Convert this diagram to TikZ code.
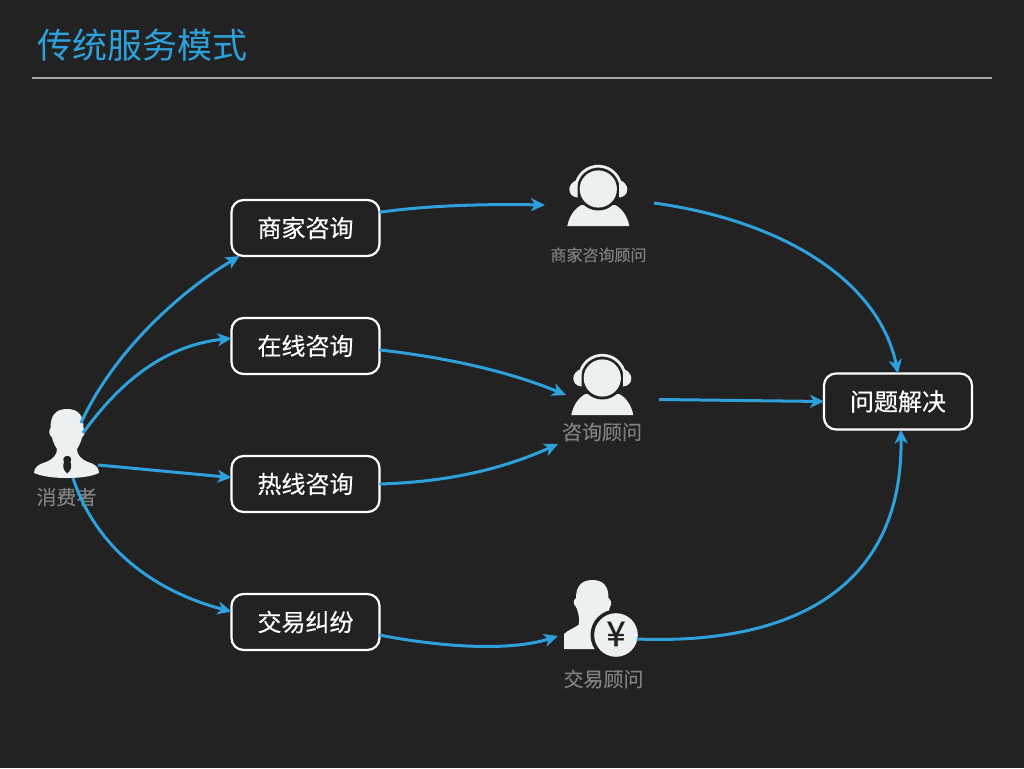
\documentclass[tikz,border=0pt]{standalone}
\usepackage{fontspec}
\setmainfont{Noto Sans CJK SC}
\newfontfamily\cuti[FakeBold=0.35]{Noto Sans CJK SC}
\newfontfamily\yenti[FakeBold=1.2]{Noto Sans CJK SC}
\usetikzlibrary{arrows.meta}
\definecolor{heidi}{HTML}{222222}
\definecolor{tianlan}{HTML}{2EA1DC}
\definecolor{qianhui}{HTML}{ECF0F1}
\definecolor{shenhui}{HTML}{7F7F7F}
\definecolor{xianhui}{HTML}{A6A6A6}
\tikzset{
  kuang/.style={
    rounded corners=12pt,
    draw=white,
    line width=2.2pt,
    fill=heidi,
    text=white,
    align=center,
    minimum width=148pt,
    minimum height=56pt,
    inner sep=0pt,
    outer sep=0pt,
    font=\cuti\fontsize{24}{28}\selectfont
  },
  biaozhu/.style={
    text=shenhui,
    inner sep=0pt,
    font=\cuti\fontsize{20}{24}\selectfont
  },
  biaoti/.style={
    text=tianlan,
    inner sep=0pt,
    font=\fontsize{35}{40}\selectfont
  },
  jiantou/.style={
    -{Stealth[length=14pt,width=13pt,inset=4pt]},
    line width=3pt,
    tianlan
  },
  kefu/.pic={
    \fill[qianhui] (-31,37) .. controls (-29,27) and (-24,20) .. (-17,16)
      -- (17,16) .. controls (24,20) and (29,27) .. (31,37) -- cycle;
    \fill[heidi] (0,0) circle (21.5);
    \fill[qianhui] (0,0) circle (18.6);
    \draw[qianhui,line width=2.8pt] (185:22.8) arc[start angle=185,end angle=355,radius=22.8];
    \fill[qianhui] (-20.8,-9) .. controls (-26,-8) and (-29,-3) .. (-29,0)
      .. controls (-29,5) and (-26,8) .. (-20.8,8.5) -- cycle;
    \fill[qianhui] (20.8,-9) .. controls (26,-8) and (29,-3) .. (29,0)
      .. controls (29,5) and (26,8) .. (20.8,8.5) -- cycle;
  }
}

\begin{document}
\begin{tikzpicture}[x=1pt,y=-1pt]
\useasboundingbox[fill=heidi] (0,0) rectangle (1024,768);
\node[biaoti,anchor=west] (title) at (37,45) {传统服务模式};
\coordinate (ruleL) at (32,77.5);
\coordinate (ruleR) at (992,77.5);
\draw[xianhui,line width=2pt] (ruleL) -- (ruleR);

% consumer
\fill[qianhui] (67,409) .. controls (79,409) and (83.5,416) .. (83.5,428)
  .. controls (85.5,431) and (85,435) .. (82,437.5)
  .. controls (81,442) and (79,446) .. (77,449)
  .. controls (77,455) and (81,459) .. (88,462)
  .. controls (95,464) and (99,467) .. (99,473)
  .. controls (90,477) and (78,478) .. (67,478)
  .. controls (56,478) and (44,477) .. (34,473)
  .. controls (34,467) and (39,464) .. (46,462)
  .. controls (53,459) and (57,455) .. (57,449)
  .. controls (55,446) and (53,442) .. (52,437.5)
  .. controls (49,435) and (48.5,431) .. (50.5,428)
  .. controls (50.5,416) and (55,409) .. (67,409) -- cycle;
\fill[heidi] (67.3,456) .. controls (71,456) and (72,459) .. (70.5,462)
  .. controls (72,466) and (71.5,470) .. (67.3,473.5)
  .. controls (63,470) and (62.5,466) .. (64,462)
  .. controls (62.5,459) and (63.5,456) .. (67.3,456) -- cycle;
\node[biaozhu] (xiaofeizhe) at (66.5,497) {消费者};

% advisers
\pic at (598.3,189) {kefu};
\node[biaozhu,font=\cuti\fontsize{16}{20}\selectfont] (shangjiaLabel) at (598.5,255) {商家咨询顾问};
\pic at (602.3,378) {kefu};
\node[biaozhu] (zixunLabel) at (602,432) {咨询顾问};

\fill[qianhui] (592.3,580) .. controls (604,580) and (608.5,587) .. (608.5,598)
  .. controls (611.5,600) and (612,604) .. (610,607)
  .. controls (608,613) and (607,618) .. (606,622)
  -- (600,649) -- (564,649) -- (564,634)
  .. controls (568,630) and (574,628) .. (578.5,625)
  .. controls (580,620) and (579,614) .. (576,607)
  .. controls (573,604) and (573,600) .. (576,598)
  .. controls (576,587) and (581,580) .. (592.3,580) -- cycle;
\fill[heidi] (616,635) circle (25.5);
\fill[qianhui] (616,635) circle (21.8);
\node[inner sep=0pt,text=heidi,font=\yenti\fontsize{34}{36}\selectfont] (yen) at (616,634) {¥};
\node[biaozhu] (jiaoyiLabel) at (603.5,679) {交易顾问};

% boxes
\node[kuang] (shangjia) at (305.5,228) {商家咨询};
\node[kuang] (zaixian) at (305.5,346) {在线咨询};
\node[kuang] (rexian) at (305.5,484) {热线咨询};
\node[kuang] (jiufen) at (305.5,622) {交易纠纷};
\node[kuang] (jiejue) at (898,401.5) {问题解决};

\coordinate (xf1) at (81,423);
\coordinate (xf2) at (83,433);
\coordinate (xf3) at (98,465);
\coordinate (xf4) at (73,478);
\coordinate (sjIn) at (545,205);
\coordinate (sjOut) at (654,203);
\coordinate (zxIn) at (566,395);
\coordinate (rxIn) at (558,444);
\coordinate (zxOut) at (659,399.5);
\coordinate (jyIn) at (558,636);
\coordinate (jyOut) at (637,639);

\draw[jiantou] (xf1) .. controls (112,355) and (175,295) .. (shangjia.203);
\draw[jiantou] (xf2) .. controls (125,375) and (170,345) .. (zaixian.174);
\draw[jiantou] (xf3) -- (rexian.175);
\draw[jiantou] (xf4) .. controls (95,545) and (150,590) .. (jiufen.172);
\draw[jiantou] (shangjia.12) .. controls (430,205) and (490,204) .. (sjIn);
\draw[jiantou] (zaixian.-3) .. controls (450,358) and (510,372) .. (zxIn);
\draw[jiantou] (rexian.east) .. controls (450,482) and (505,468) .. (rxIn);
\draw[jiantou] (jiufen.-10) .. controls (430,645) and (505,653) .. (jyIn);
\draw[jiantou] (sjOut) .. controls (790,222) and (880,285) .. (jiejue.90);
\draw[jiantou] (zxOut) -- (jiejue.west);
\draw[jiantou] (jyOut) .. controls (790,645) and (903,590) .. (jiejue.-84);
\end{tikzpicture}
\end{document}
